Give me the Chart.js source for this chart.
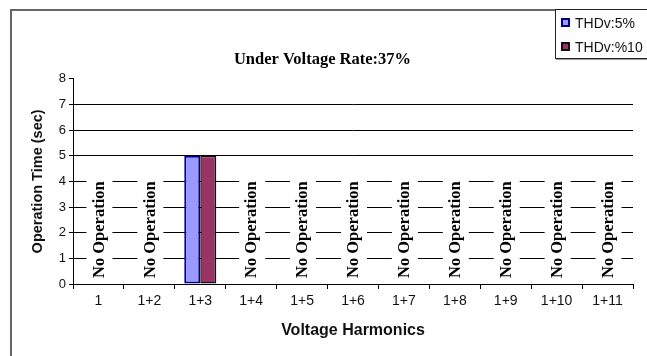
<!DOCTYPE html>
<html>
<head>
<meta charset="utf-8">
<script src="https://cdn.jsdelivr.net/npm/chart.js@4/dist/chart.umd.min.js"></script>
<style>
  html, body { margin: 0; padding: 0; background: #fff; }
  #wrap { position: relative; width: 647px; height: 356px; overflow: hidden; }
  #frame { position: absolute; left: 10px; top: 9px; width: 700px; height: 400px;
           border-left: 2px solid #666; border-top: 2px solid #666; }
  canvas { position: absolute; left: 0; top: 0; }
  #legend { position: absolute; left: 555px; top: 9px; width: 100px; height: 48px;
            border: 1px solid #222; background: #fff; box-shadow: 1px 1px 0 #999;
            font: 14px "Liberation Sans", Arial, sans-serif; color: #111; }
  .item { position: absolute; left: 5px; height: 16px; line-height: 16px; white-space: nowrap; }
  .swatch { display: inline-block; width: 5px; height: 5px; border: 2px solid; margin-right: 5px; vertical-align: 1px; }
</style>
</head>
<body>
<div id="wrap">
  <div id="frame"></div>
  <canvas id="chart" width="647" height="356"></canvas>
  <div id="legend"></div>
</div>
<script>
// harmonic combinations on the x axis
const categories = ['1', '1+2', '1+3', '1+4', '1+5', '1+6', '1+7', '1+8', '1+9', '1+10', '1+11'];
// operation time in seconds, null = relay did not operate
const thdv5  = [null, null, 5, null, null, null, null, null, null, null, null];
const thdv10 = [null, null, 5, null, null, null, null, null, null, null, null];
const seriesNames = ['THDv:5%', 'THDv:%10'];
const yTicks = [0, 1, 2, 3, 4, 5, 6, 7, 8];
const noOpText = 'No Operation';

const fills = ['#9999ff', '#993366'];
const borders = ['#000080', '#111111'];

// vertical "No Operation" tags for the categories without any bar
const noOpLabels = {
  id: 'noOpLabels',
  afterDatasetsDraw(chart) {
    const { ctx, scales: { x, y } } = chart;
    ctx.save();
    ctx.font = 'bold 16.5px "Liberation Serif", "Times New Roman", serif';
    const w = ctx.measureText(noOpText).width;
    const base = y.getPixelForValue(0) - 6;
    categories.forEach((c, i) => {
      if (thdv5[i] !== null || thdv10[i] !== null) return;
      const cx = x.getPixelForValue(i) + 1;
      ctx.fillStyle = '#fff';
      ctx.fillRect(cx - 13, base - w - 5, 26, w + 8);
      ctx.save();
      ctx.translate(cx, base);
      ctx.rotate(-Math.PI / 2);
      ctx.fillStyle = '#000';
      ctx.textAlign = 'left';
      ctx.textBaseline = 'middle';
      ctx.fillText(noOpText, 0, 0);
      ctx.restore();
    });
    ctx.restore();
  }
};

const chart = new Chart(document.getElementById('chart'), {
  type: 'bar',
  data: {
    labels: categories,
    datasets: [thdv5, thdv10].map((d, i) => ({
      label: seriesNames[i],
      data: d,
      backgroundColor: fills[i],
      borderColor: borders[i],
      borderWidth: i === 0 ? 2 : 1.5,
      borderSkipped: false,
      categoryPercentage: 0.63,
      barPercentage: 1.0
    }))
  },
  options: {
    responsive: false,
    animation: false,
    devicePixelRatio: 1,
    layout: { padding: { left: 12, right: 14, top: 0, bottom: 0 } },
    plugins: {
      legend: { display: false },
      tooltip: { enabled: false },
      title: {
        display: true,
        text: 'Under Voltage Rate:37%',
        color: '#000',
        font: { family: '"Liberation Serif", "Times New Roman", serif', size: 16.5, weight: 'bold', lineHeight: 1.2 },
        padding: { top: 50, bottom: 9 }
      }
    },
    scales: {
      x: {
        grid: { offset: true, drawOnChartArea: false, drawTicks: true, tickLength: 5, tickColor: '#000' },
        border: { color: '#000', width: 1 },
        ticks: { color: '#111', font: { family: '"Liberation Sans", Arial, sans-serif', size: 14 }, padding: 4, maxRotation: 0 },
        title: {
          display: true, text: 'Voltage Harmonics', color: '#111',
          font: { family: '"Liberation Sans", Arial, sans-serif', size: 16, weight: 'bold', lineHeight: 1.2 },
          padding: { top: 0, bottom: 16 }
        },
        afterFit(s) { s.height = 72; }
      },
      y: {
        min: 0, max: 8,
        afterBuildTicks(s) { s.ticks = yTicks.map(v => ({ value: v })); },
        grid: {
          color: c => (c.tick && c.tick.value === 8) ? 'rgba(0,0,0,0)' : '#000',
          lineWidth: 1,
          drawTicks: true, tickLength: 4, tickColor: '#000'
        },
        border: { color: '#000', width: 1 },
        ticks: { color: '#111', font: { family: '"Liberation Sans", Arial, sans-serif', size: 13 }, padding: 3 },
        title: {
          display: true, text: 'Operation Time (sec)', color: '#111',
          font: { family: '"Liberation Sans", Arial, sans-serif', size: 14.5, weight: 'bold', lineHeight: 1.2 },
          padding: { top: 17, bottom: 0 }
        },
        afterFit(s) { s.width = 61; }
      }
    }
  },
  plugins: [noOpLabels]
});

// legend box in the upper right corner, built from the datasets
const legend = document.getElementById('legend');
chart.data.datasets.forEach((ds, i) => {
  const item = document.createElement('div');
  item.className = 'item';
  item.style.top = (5 + i * 24) + 'px';
  const sw = document.createElement('span');
  sw.className = 'swatch';
  sw.style.background = ds.backgroundColor;
  sw.style.borderColor = ds.borderColor;
  item.appendChild(sw);
  item.appendChild(document.createTextNode(ds.label));
  legend.appendChild(item);
});
</script>
</body>
</html>
